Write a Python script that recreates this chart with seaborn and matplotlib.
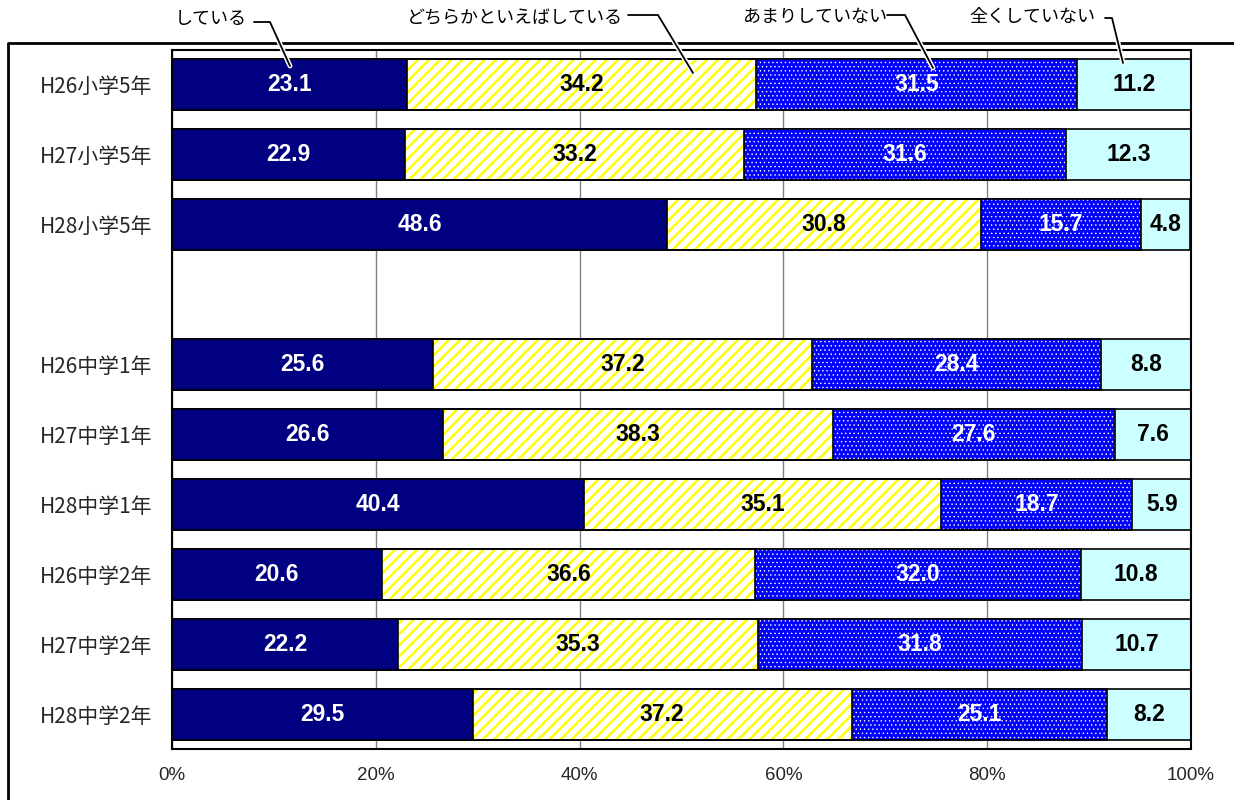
import numpy as np
import pandas as pd
import seaborn as sns
import matplotlib.pyplot as plt
from matplotlib.lines import Line2D
import matplotlib.patheffects as pe

# data
groups = ["H26小学5年", "H27小学5年", "H28小学5年",
          "H26中学1年", "H27中学1年", "H28中学1年",
          "H26中学2年", "H27中学2年", "H28中学2年"]
shiteiru = [23.1, 22.9, 48.6, 25.6, 26.6, 40.4, 20.6, 22.2, 29.5]
dochiraka = [34.2, 33.2, 30.8, 37.2, 38.3, 35.1, 36.6, 35.3, 37.2]
amari = [31.5, 31.6, 15.7, 28.4, 27.6, 18.7, 32.0, 31.8, 25.1]
mattaku = [11.2, 12.3, 4.8, 8.8, 7.6, 5.9, 10.8, 10.7, 8.2]
series_names = ["している", "どちらかといえばしている", "あまりしていない", "全くしていない"]
xticks = [0, 20, 40, 60, 80, 100]

order = groups[:3] + ["　"] + groups[3:]

sns.set_style("white")
plt.rcParams['font.family'] = ['Noto Sans CJK JP', 'DejaVu Sans']

df = pd.DataFrame({"group": groups, "s1": shiteiru, "s2": dochiraka,
                   "s3": amari, "s4": mattaku})
vals = df[["s1", "s2", "s3", "s4"]].to_numpy()
cum = np.cumsum(vals, axis=1)
for i in range(4):
    df[f"c{i+1}"] = cum[:, i]

fig = plt.figure(figsize=(12.34, 8), dpi=100)
ax = fig.add_axes([172 / 1234, 1 - 749 / 800, 1019 / 1234, 699 / 800])

W = 0.73
common = dict(data=df, y="group", order=order, width=W, saturation=1,
              orient="h", ax=ax, errorbar=None)


def layer(hlw=None, **kw):
    n0 = len(ax.patches)
    sns.barplot(**kw, **common)
    if hlw is not None:
        for p in ax.patches[n0:]:
            if hasattr(p, "set_hatch_linewidth"):
                p.set_hatch_linewidth(hlw)


# layers drawn widest first, each later one covers the left part
layer(x="c4", color="#CCFFFF", edgecolor="black", linewidth=1.2)
plt.rcParams['hatch.linewidth'] = 0.5
layer(hlw=0.5, x="c3", color="#0000FF", edgecolor="white", linewidth=0,
      hatch="....")
plt.rcParams['hatch.linewidth'] = 1.8
layer(hlw=1.8, x="c2", color="white", edgecolor="#FFFF00", linewidth=0,
      hatch="///")
layer(x="c2", fill=False, color="black", linewidth=1.2)
layer(x="c3", fill=False, color="black", linewidth=1.2)
layer(x="c1", color="#000080", edgecolor="black", linewidth=1.2)

# value labels
txtcol = ["white", "black", "white", "black"]
for r, g in enumerate(groups):
    yi = order.index(g)
    for k in range(4):
        mid = cum[r, k] - vals[r, k] / 2
        ax.text(mid, yi, f"{vals[r, k]:.1f}", ha="center", va="center",
                color=txtcol[k], fontsize=16.5, fontweight="bold",
                family=["Liberation Sans", "DejaVu Sans"])

ax.set_xlim(0, 100)
ax.set_xticks(xticks)
ax.set_xticklabels([f"{t}%" for t in xticks],
                   family=["Liberation Sans", "DejaVu Sans"], fontsize=13.5)
ax.xaxis.grid(True, color="#808080", linewidth=1)
ax.set_axisbelow(True)
ax.tick_params(axis="both", length=0)
ax.tick_params(axis="x", pad=13)
ax.tick_params(axis="y", pad=14, labelsize=15)
ax.set_xlabel("")
ax.set_ylabel("")
for s in ax.spines.values():
    s.set_visible(True)
    s.set_color("black")
    s.set_linewidth(1.5)


def fx(px):
    return px / 1234


def fy(py):
    return 1 - py / 800


# outer border (cut at right and bottom)
fig.add_artist(Line2D([fx(8), fx(8), fx(1234)], [fy(800), fy(43), fy(43)],
                      color="black", lw=2, transform=fig.transFigure))

# series labels with leader lines
callouts = [
    (series_names[0], 247, 19, [(254, 22), (270, 22), (290, 66)]),
    (series_names[1], 623, 18, [(628, 15), (658, 15), (693, 73)]),
    (series_names[2], 887, 17, [(887, 15), (905, 15), (933, 68)]),
    (series_names[3], 1095, 17, [(1105, 18), (1112, 18), (1123, 63)]),
]
for name, tx, ty, pts in callouts:
    fig.text(fx(tx), fy(ty), name, ha="right", va="center", fontsize=13,
             color="black")
    fig.add_artist(Line2D([fx(p[0]) for p in pts], [fy(p[1]) for p in pts],
                          color="black", lw=1.3, transform=fig.transFigure,
                          path_effects=[pe.withStroke(linewidth=3.5,
                                                      foreground="white")]))

fig.savefig("out.png", dpi=100)
